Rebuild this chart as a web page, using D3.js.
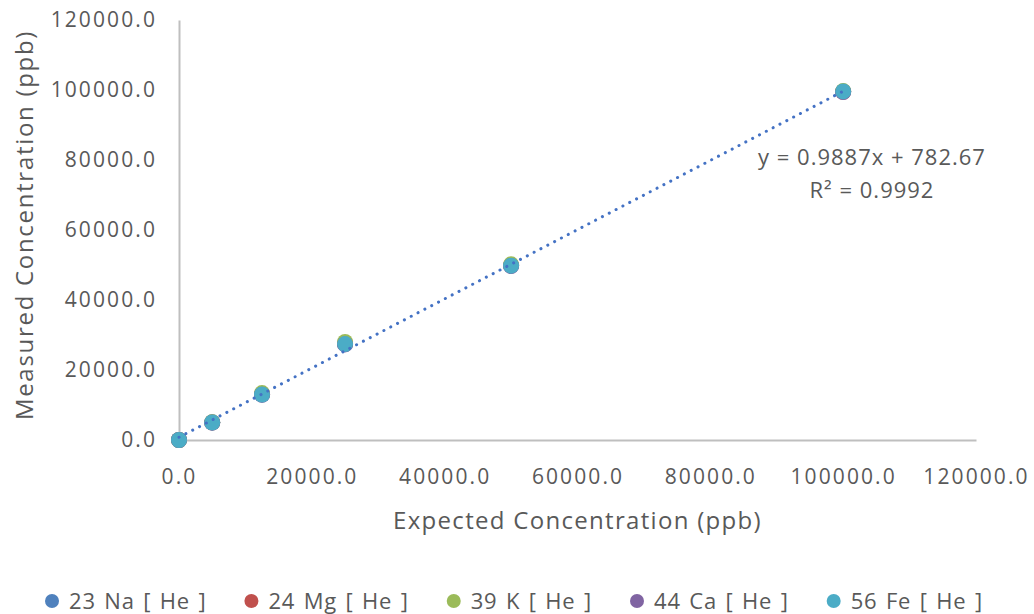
<!DOCTYPE html>
<html>
<head>
<meta charset="utf-8">
<script src="https://cdn.jsdelivr.net/npm/d3@7"></script>
<style>
  html, body { margin: 0; padding: 0; background: #fff; }
  svg text { font-family: "Open Sans", "Noto Sans", sans-serif; fill: #595959; }
</style>
</head>
<body>
<svg id="chart" width="1034" height="614"></svg>
<script>
// Expected standard concentrations (ppb)
const expected = [0, 5000, 12500, 25000, 50000, 100000];

// Measured concentrations (ppb) per isotope
const seriesNames = ["23 Na [ He ]", "24 Mg [ He ]", "39 K [ He ]", "44 Ca [ He ]", "56 Fe [ He ]"];
const na = [0, 5050, 13000, 27400, 49800, 99600];
const mg = [0, 5000, 13100, 27600, 49900, 99500];
const k  = [0, 5100, 13400, 28000, 50200, 99700];
const ca = [0, 4950, 12900, 27300, 49700, 99400];
const fe = [0, 5000, 13000, 27400, 49800, 99600];
const seriesColors = ["#4F81BD", "#C0504D", "#9BBB59", "#8064A2", "#4BACC6"];

// Linear trendline (fitted on 23 Na)
const slope = 0.9887;
const intercept = 782.67;
const rSquared = 0.9992;
const trendRange = [0, 100000];

// Axis ticks
const xTicks = [0, 20000, 40000, 60000, 80000, 100000, 120000];
const yTicks = [0, 20000, 40000, 60000, 80000, 100000, 120000];

const series = [na, mg, k, ca, fe].map((vals, i) => ({
  name: seriesNames[i],
  color: seriesColors[i],
  points: expected.map((x, j) => ({ x, y: vals[j] }))
}));

const svg = d3.select("#chart");
const plot = { left: 179, right: 976, top: 20, bottom: 440 };

const x = d3.scaleLinear().domain([0, 120000]).range([plot.left, plot.right]);
const y = d3.scaleLinear().domain([0, 120000]).range([plot.bottom, plot.top]);
const fmt = d3.format(".1f");

// Axes
const xAxis = svg.append("g")
  .attr("transform", `translate(0,${plot.bottom})`)
  .call(d3.axisBottom(x).tickValues(xTicks).tickFormat(fmt).tickSize(0).tickPadding(37));
const yAxis = svg.append("g")
  .attr("transform", `translate(${plot.left},0)`)
  .call(d3.axisLeft(y).tickValues(yTicks).tickFormat(fmt).tickSize(0).tickPadding(22));

[xAxis, yAxis].forEach(g => {
  g.select(".domain").attr("stroke", "#BFBFBF").attr("stroke-width", 2);
  g.selectAll("text")
    .style("font-family", '"Open Sans", "Noto Sans", sans-serif')
    .attr("font-size", 21)
    .attr("letter-spacing", 2.1)
    .attr("fill", "#595959");
});
xAxis.selectAll("text").attr("dy", "0.35em");

// Axis titles
svg.append("text")
  .attr("x", (plot.left + plot.right) / 2)
  .attr("y", 529)
  .attr("text-anchor", "middle")
  .attr("font-size", 24)
  .attr("letter-spacing", 1.3)
  .text("Expected Concentration (ppb)");

svg.append("text")
  .attr("transform", `translate(33,${(plot.top + plot.bottom) / 2 - 5}) rotate(-90)`)
  .attr("text-anchor", "middle")
  .attr("font-size", 24)
  .attr("letter-spacing", 1.7)
  .text("Measured Concentration (ppb)");

// Data points (later series drawn on top)
series.forEach(s => {
  svg.append("g")
    .selectAll("circle")
    .data(s.points)
    .join("circle")
    .attr("cx", d => x(d.x))
    .attr("cy", d => y(d.y))
    .attr("r", 8)
    .attr("fill", s.color);
});

// Dotted trendline
svg.append("line")
  .attr("x1", x(trendRange[0]))
  .attr("y1", y(slope * trendRange[0] + intercept))
  .attr("x2", x(trendRange[1]))
  .attr("y2", y(slope * trendRange[1] + intercept))
  .attr("stroke", "#4472C4")
  .attr("stroke-width", 3)
  .attr("stroke-linecap", "round")
  .attr("stroke-dasharray", "0.1 7.6");

// Trendline equation
const eq = svg.append("text")
  .attr("text-anchor", "middle")
  .attr("font-size", 22)
  .attr("letter-spacing", 1);
eq.append("tspan").attr("x", 872).attr("y", 165)
  .text(`y = ${slope}x + ${intercept}`);
eq.append("tspan").attr("x", 872).attr("y", 198)
  .text(`R² = ${rSquared}`);

// Legend
const legend = svg.append("g").attr("transform", "translate(0,601)");
const items = legend.selectAll("g")
  .data(series)
  .join("g");
items.append("circle").attr("r", 7).attr("cx", 7).attr("fill", d => d.color);
items.append("text")
  .attr("x", 24)
  .attr("dy", "0.36em")
  .attr("font-size", 22)
  .attr("letter-spacing", 0.8)
  .attr("word-spacing", 2)
  .text(d => d.name);

const gap = 38;
const widths = [];
items.each(function () { widths.push(this.getBBox().width); });
const total = d3.sum(widths) + gap * (widths.length - 1);
let cursor = 514 - total / 2;
items.each(function (d, i) {
  d3.select(this).attr("transform", `translate(${cursor},0)`);
  cursor += widths[i] + gap;
});
</script>
</body>
</html>
